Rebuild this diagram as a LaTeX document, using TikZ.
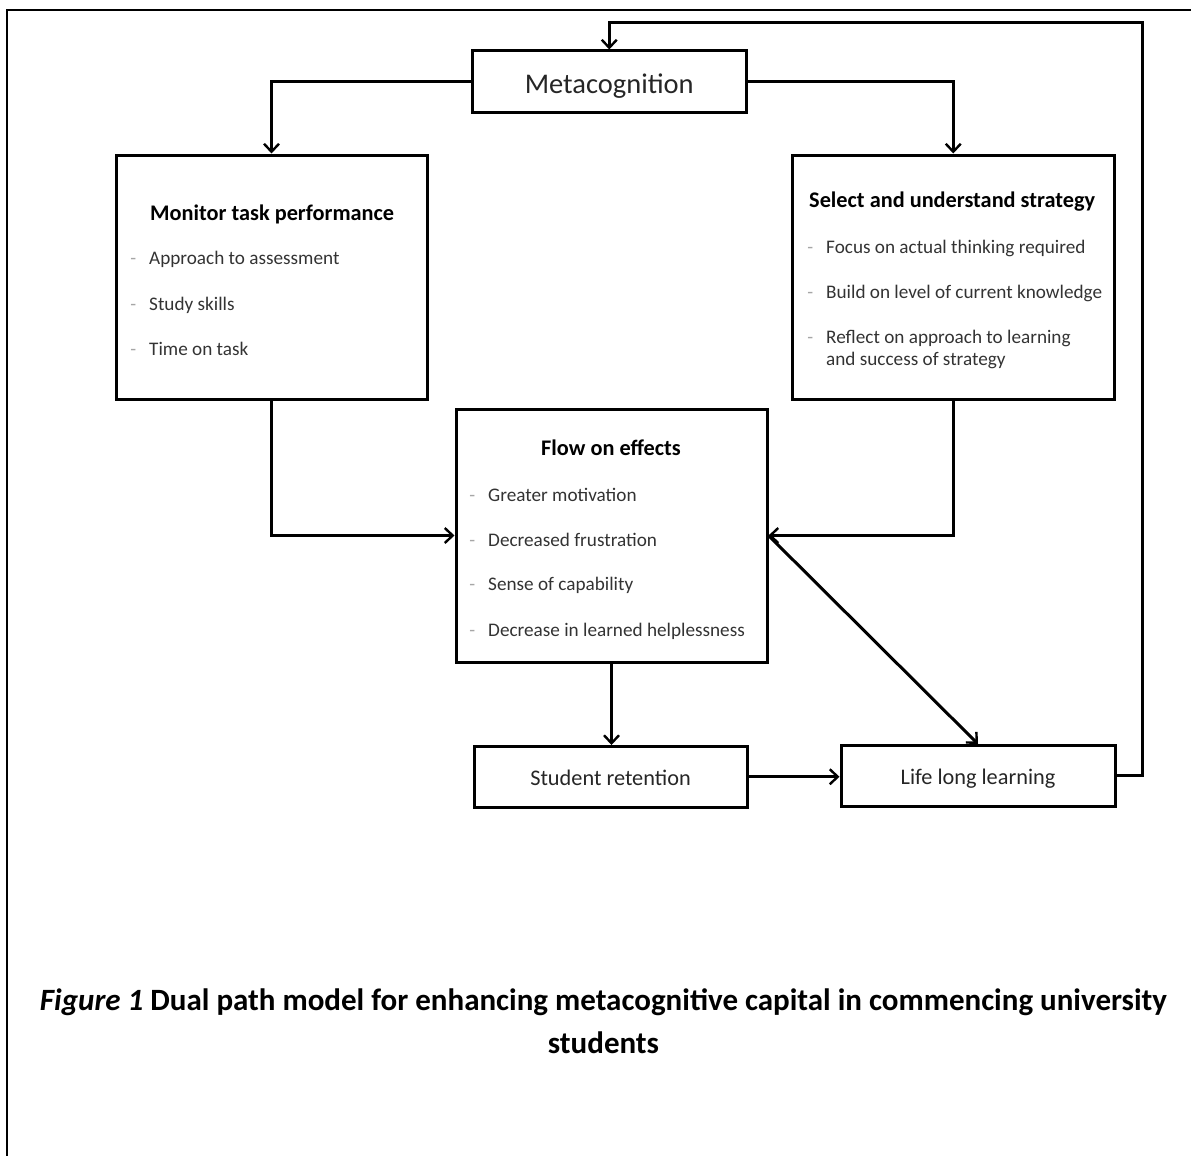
\documentclass[tikz,border=0pt]{standalone}
\usepackage{fontspec}
\setmainfont{Carlito}
\usetikzlibrary{arrows.meta}

\newcommand{\itm}{\llap{\textcolor{gray!70}{-}\hspace{13pt}}}

\tikzset{
  box/.style = {draw, line width=3pt, inner sep=0pt},
  textbox/.style = {box, text height=18pt, text depth=0pt,
    font=\fontsize{22.3}{26}\selectfont, text=black!85},
  head/.style = {anchor=base west, inner sep=0pt,
    font=\bfseries\fontsize{22.3}{26}\selectfont},
  item/.style = {anchor=base west, inner sep=0pt, align=left,
    font=\fontsize{19.2}{22}\selectfont, text=black!80},
  conn/.style = {line width=3pt,
    -{Straight Barb[length=8pt,width=15pt,line width=2.4pt]}}
}

\begin{document}
\begin{tikzpicture}[x=1pt, y=-1pt]
  \useasboundingbox (0,0) rectangle (1191,1156);
  % frame
  \coordinate (frametl) at (7,10);
  \draw[line width=2.5pt] (7,1156) -- (frametl) -- (1191,10);

  % boxes
  \node[textbox, minimum width=273.5pt, minimum height=61.5pt,
    text height=22.5pt, font=\fontsize{28.5}{32}\selectfont]
    (meta) at (609.25,81.75) {Metacognition};
  \node[box, minimum width=311pt, minimum height=244pt] (monitor) at (271.5,277) {};
  \node[box, minimum width=322.5pt, minimum height=244pt] (select) at (953.25,277) {};
  \node[box, minimum width=311pt, minimum height=253pt] (flow) at (611.5,535.5) {};
  \node[textbox, minimum width=273pt, minimum height=60.5pt]
    (retain) at (610.5,776.75) {Student retention};
  \node[textbox, minimum width=274pt, minimum height=60.5pt]
    (life) at (978,775.75) {Life long learning};

  % box texts
  \node[head] (monhead) at (150,220) {Monitor task performance};
  \node[item] (mon1) at (149,264) {\itm Approach to assessment};
  \node[item] (mon2) at (149,310) {\itm Study skills};
  \node[item] (mon3) at (149,355) {\itm Time on task};

  \node[head] (selhead) at (809,207) {Select and understand strategy};
  \node[item] (sel1) at (826,253) {\itm Focus on actual thinking required};
  \node[item] (sel2) at (826,298) {\itm Build on level of current knowledge};
  \node[item] (sel3) at (826,365) {\itm Reflect on approach to learning\\and success of strategy};

  \node[head] (flowhead) at (541,455) {Flow on effects};
  \node[item] (flow1) at (488,501) {\itm Greater motivation};
  \node[item] (flow2) at (488,546) {\itm Decreased frustration};
  \node[item] (flow3) at (488,590) {\itm Sense of capability};
  \node[item] (flow4) at (488,636) {\itm Decrease in learned helplessness};

  % connectors
  \draw[conn] (meta.west) -| (monitor.north);
  \draw[conn] (meta.east) -| (select.north);
  \draw[conn] (monitor.south) |- (flow.west);
  \draw[conn] (select.south) |- (flow.east);
  \draw[conn] (flow.south) -- (flow.south |- retain.north);
  \draw[conn] (retain.east) -- (retain.east -| life.west);
  \draw[conn] (flow.east) -- (life.north);
  \coordinate (loop) at (1142,23);
  \draw[conn] (life.east) -| (loop) -| (meta.north);

  % caption
  \node[anchor=base, align=center, inner sep=0pt,
    font=\bfseries\fontsize{31}{43}\selectfont] (caption) at (603.5,1053)
    {\textit{Figure 1} Dual path model for enhancing metacognitive capital in commencing university\\students};
\end{tikzpicture}
\end{document}
